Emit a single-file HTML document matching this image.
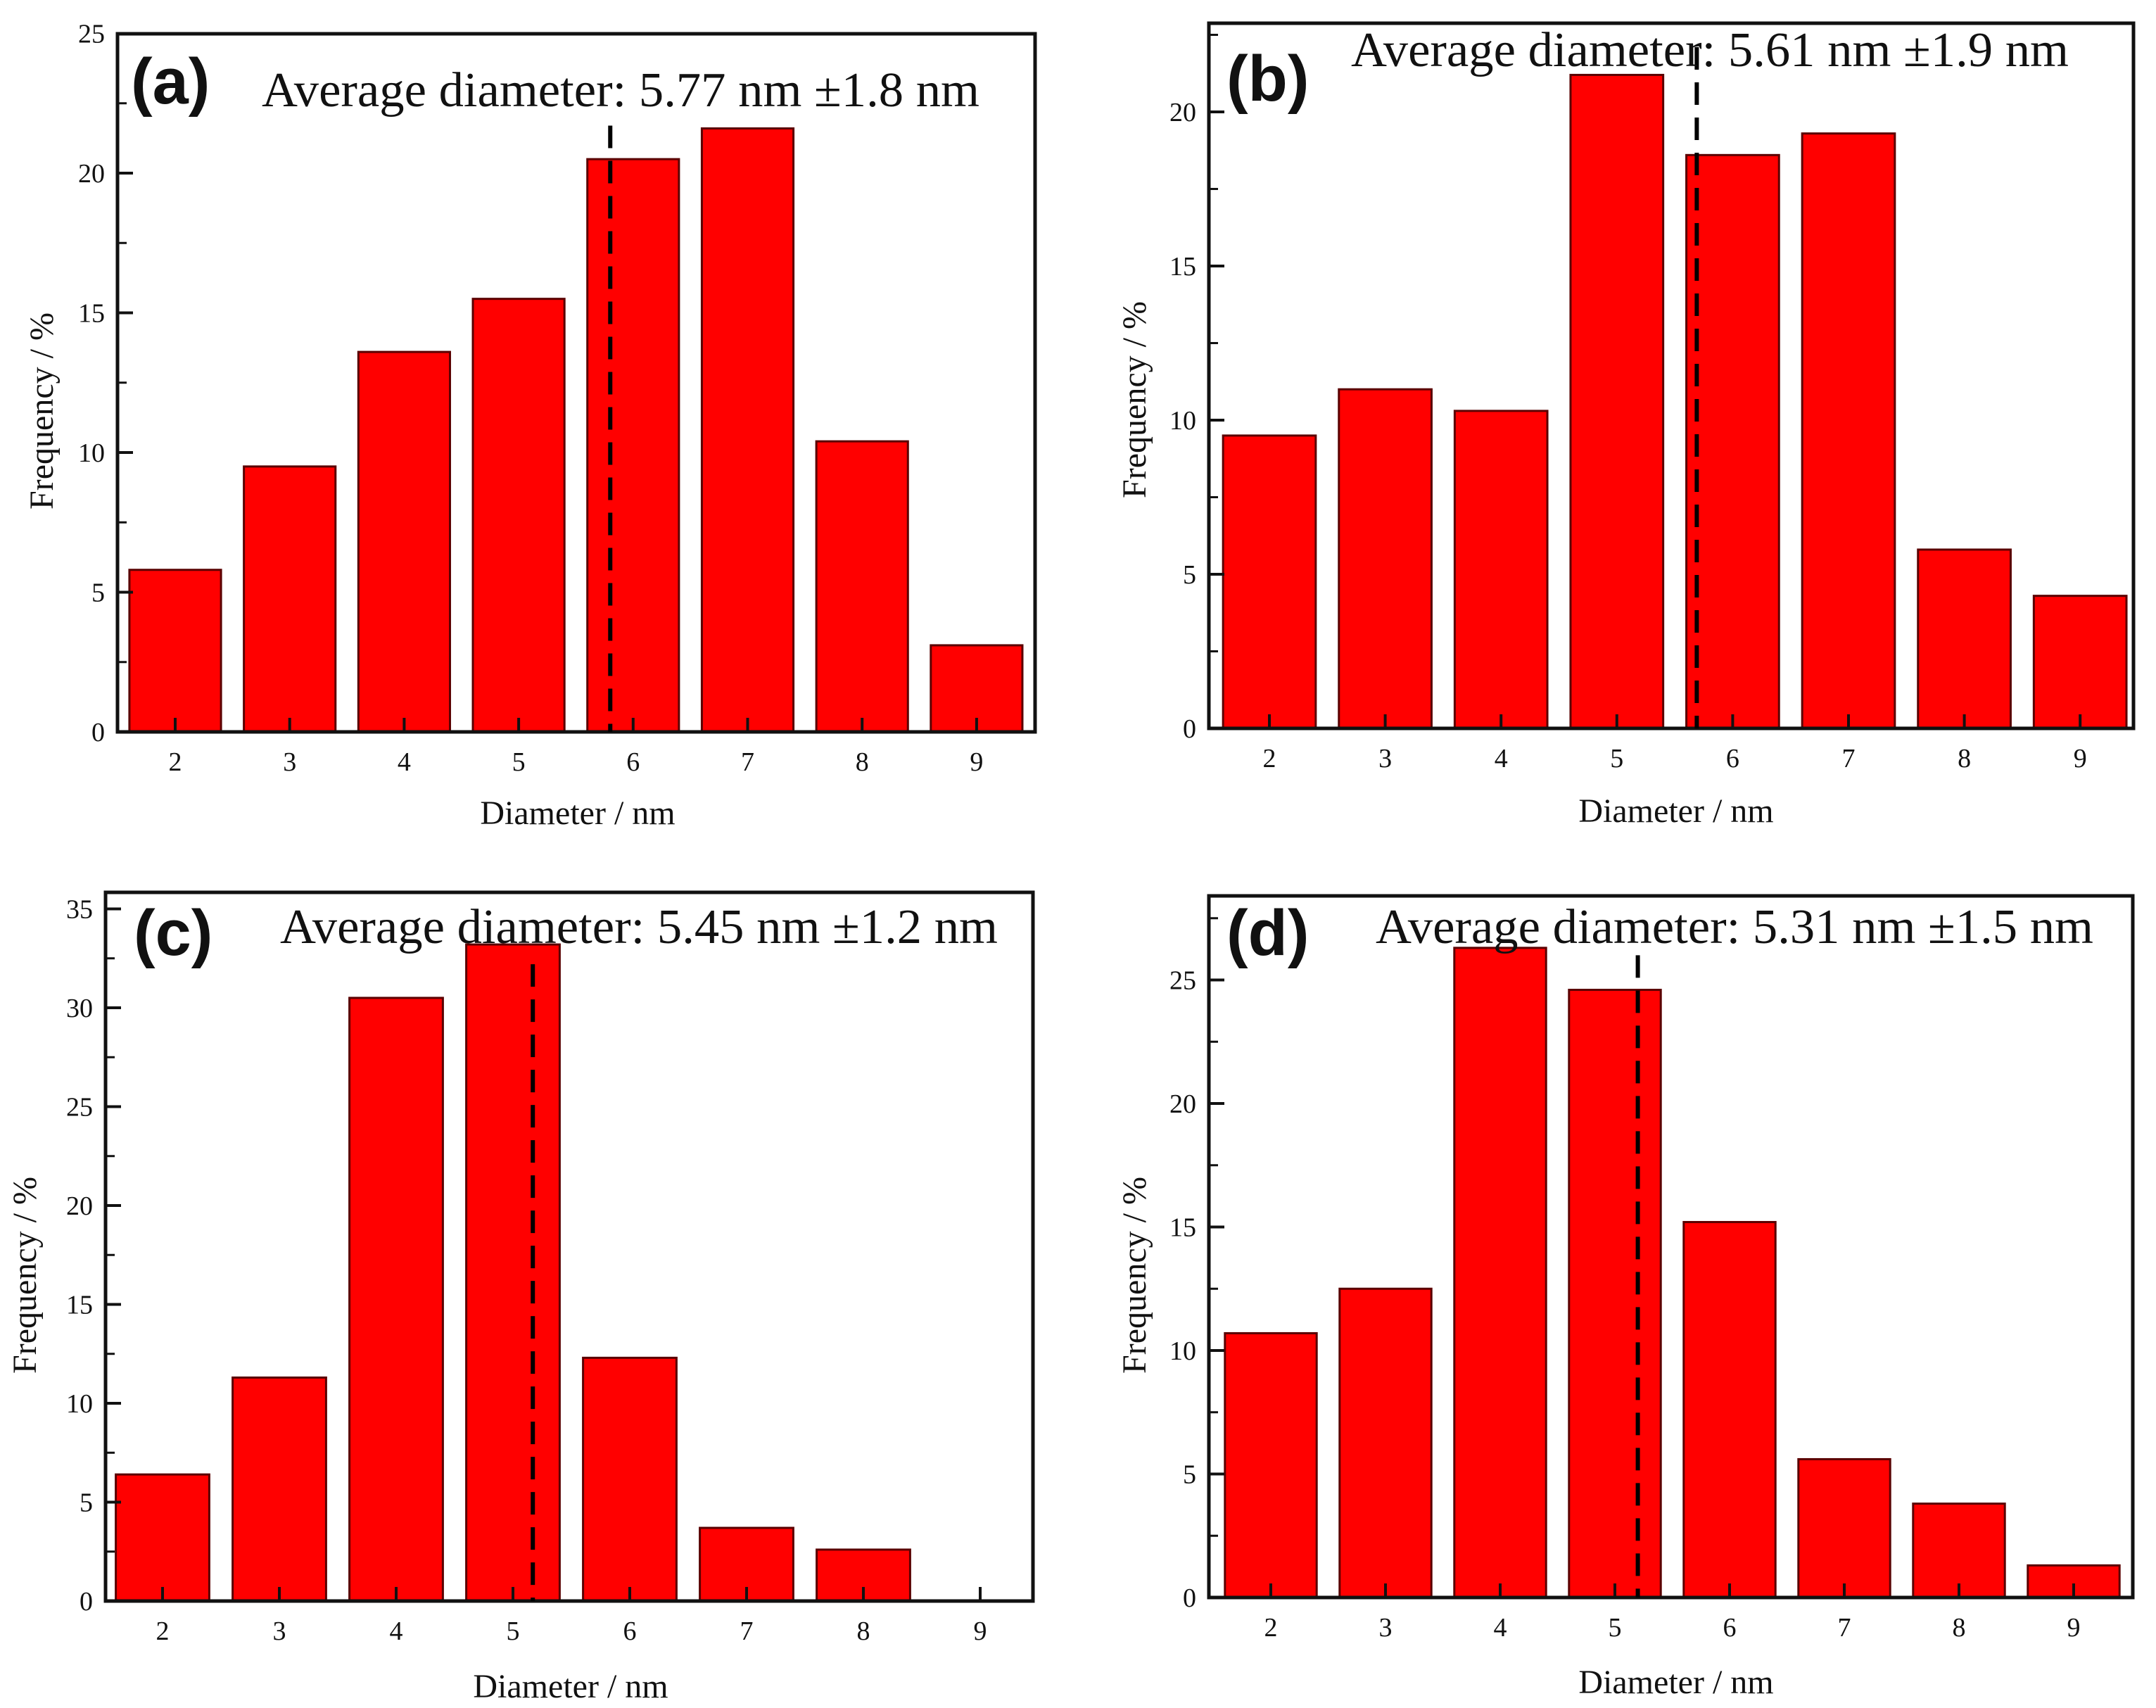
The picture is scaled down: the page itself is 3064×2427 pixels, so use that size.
<!DOCTYPE html>
<html><head><meta charset="utf-8"><style>
html,body{margin:0;padding:0;background:#fff;}
svg{display:block;}
text{font-family:"Liberation Serif",serif;fill:#111;}
.lbl{font-family:"Liberation Sans",sans-serif;font-weight:bold;}
</style></head><body>
<svg id="fig" width="3064" height="2427" viewBox="0 0 3064 2427" xmlns="http://www.w3.org/2000/svg"></svg>
<script>
const categories = [2,3,4,5,6,7,8,9];
const valuesA = [5.8, 9.5, 13.6, 15.5, 20.5, 21.6, 10.4, 3.1];
const valuesB = [9.5, 11.0, 10.3, 21.2, 18.6, 19.3, 5.8, 4.3];
const valuesC = [6.4, 11.3, 30.5, 33.2, 12.3, 3.7, 2.6, 0];
const valuesD = [10.7, 12.5, 26.3, 24.6, 15.2, 5.6, 3.8, 1.3];
const meansPlot = [5.8, 5.69, 5.17, 5.2];
const meanTops = [21.7, 22.1, 32.2, 26.0];
const ticksA = [0,5,10,15,20,25];
const ticksB = [0,5,10,15,20];
const ticksC = [0,5,10,15,20,25,30,35];
const ticksD = [0,5,10,15,20,25];
const notes = ["Average diameter: 5.77 nm \u00b11.8 nm","Average diameter: 5.61 nm \u00b11.9 nm","Average diameter: 5.45 nm \u00b11.2 nm","Average diameter: 5.31 nm \u00b11.5 nm"];
const panelLabels = ["(a)","(b)","(c)","(d)"];

const panels = [
 {id:'a', vals:valuesA, ticks:ticksA, L:167,R:1471,T:48,B:1040, x2:249,ux:162.7, uy:39.7,
  note:[372,151], lab:[186,147], xt:[821,1171], yt:[59,584]},
 {id:'b', vals:valuesB, ticks:ticksB, L:1718,R:3032,T:33,B:1035, x2:1804,ux:164.6, uy:43.8,
  note:[1920,94], lab:[1743,143], xt:[2382,1168], yt:[1612,568]},
 {id:'c', vals:valuesC, ticks:ticksC, L:150,R:1468,T:1268,B:2275, x2:231,ux:166, uy:28.1,
  note:[398,1340], lab:[190,1357], xt:[811,2412], yt:[35,1812]},
 {id:'d', vals:valuesD, ticks:ticksD, L:1718,R:3031,T:1273,B:2270, x2:1806,ux:163, uy:35.1,
  note:[1955,1340], lab:[1743,1357], xt:[2382,2406], yt:[1612,1812]}
];
const NS='http://www.w3.org/2000/svg';
const svg=document.getElementById('fig');
function mk(tag,attrs,parent){const e=document.createElementNS(NS,tag);for(const k in attrs)e.setAttribute(k,attrs[k]);(parent||svg).appendChild(e);return e;}

panels.forEach((p,pi)=>{
  const g=mk('g',{});
  
  
  const xs=v=>p.x2+(v-2)*p.ux;
  const ys=v=>p.B-v*p.uy;
  const bw=0.8*p.ux;
  p.vals.forEach((v,i)=>{
    if(v<=0) return;
    const r=mk('rect',{x:xs(categories[i])-bw/2,y:ys(v),width:bw,height:p.B-ys(v),fill:'#ff0000',stroke:'#5a0000','stroke-width':3},g);
    
    
  });
  categories.forEach(c=>{
    mk('line',{x1:xs(c),x2:xs(c),y1:p.B,y2:p.B-20,stroke:'#111','stroke-width':4},g);
    const t=mk('text',{x:xs(c),y:p.B+55,'text-anchor':'middle','font-size':38},g);
    t.textContent=c;
    
    
  });
  p.ticks.forEach((v,i)=>{
    mk('line',{x1:p.L,x2:p.L+22,y1:ys(v),y2:ys(v),stroke:'#111','stroke-width':4},g);
    if(i<p.ticks.length-1 || ys(v+2.5)>p.T) mk('line',{x1:p.L,x2:p.L+13,y1:ys(v+2.5),y2:ys(v+2.5),stroke:'#111','stroke-width':3},g);
    const t=mk('text',{x:p.L-18,y:ys(v)+13,'text-anchor':'end','font-size':38},g);
    t.textContent=v;
    
    
  });
  const f=mk('rect',{x:p.L,y:p.T,width:p.R-p.L,height:p.B-p.T,fill:'none',stroke:'#111','stroke-width':5},g);
  
  
  const m=mk('line',{x1:xs(meansPlot[pi]),x2:xs(meansPlot[pi]),y1:ys(meanTops[pi]),y2:p.B,stroke:'#000','stroke-width':6,'stroke-dasharray':'32 18'},g);
  
  
  const n=mk('text',{x:p.note[0],y:p.note[1],'font-size':70,textLength:1020,lengthAdjust:'spacingAndGlyphs'},g);
  n.textContent=notes[pi];
  
  
  const l=mk('text',{x:p.lab[0],y:p.lab[1],'font-size':92,class:'lbl'},g);
  l.textContent=panelLabels[pi];
  
  
  const xt=mk('text',{x:p.xt[0],y:p.xt[1],'text-anchor':'middle','font-size':48},g);
  xt.textContent='Diameter / nm';
  
  
  const yt=mk('text',{x:0,y:0,'text-anchor':'middle','font-size':48,transform:'translate('+(p.yt[0]+16)+','+p.yt[1]+') rotate(-90)'},g);
  yt.textContent='Frequency / %';
  
  
});
</script>
</body></html>
